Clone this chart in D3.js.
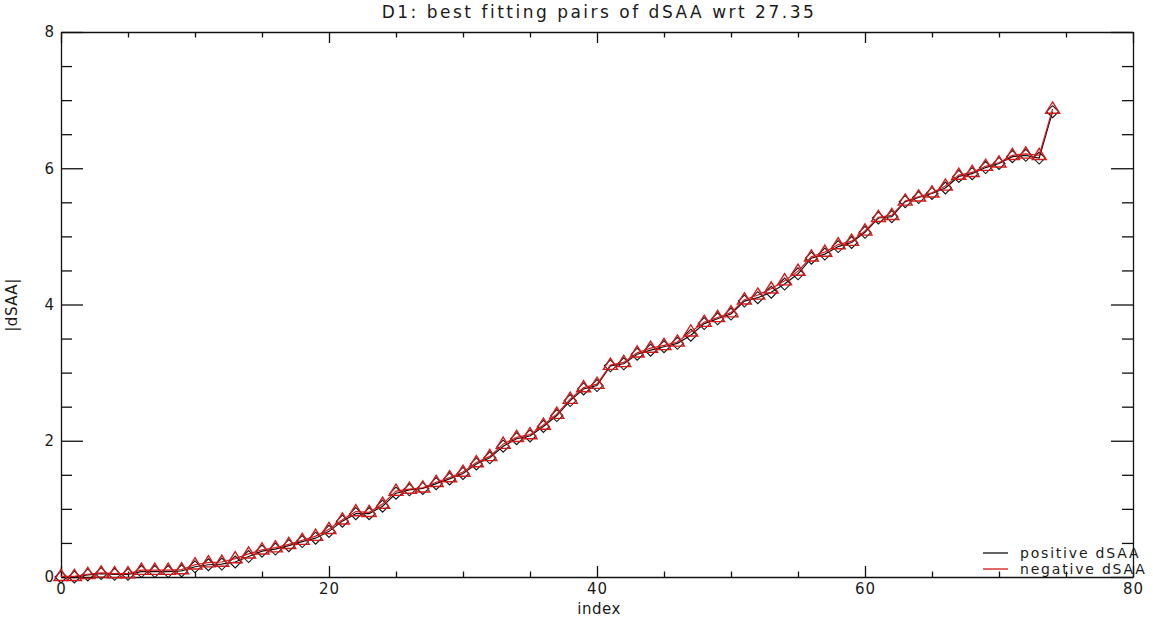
<!DOCTYPE html>
<html>
<head>
<meta charset="utf-8">
<script src="https://cdn.jsdelivr.net/npm/d3@7"></script>
<style>
  body { margin: 0; background: #fff; }
  svg text { font-family: "DejaVu Sans", sans-serif; fill: #1a1a1a; }
</style>
</head>
<body>
<svg id="chart" width="1153" height="622"></svg>
<script>
// values
var positiveDSAA = [0.00,0.00,0.03,0.05,0.04,0.04,0.08,0.08,0.08,0.09,0.15,0.18,0.19,0.22,0.30,0.38,0.41,0.46,0.52,0.57,
                    0.67,0.82,0.93,0.93,1.04,1.23,1.28,1.30,1.37,1.44,1.52,1.66,1.75,1.92,2.03,2.07,2.21,2.37,2.59,2.76,
                    2.81,3.10,3.13,3.27,3.33,3.38,3.43,3.55,3.72,3.79,3.86,4.05,4.10,4.18,4.30,4.45,4.68,4.74,4.85,4.91,
                    5.06,5.27,5.29,5.51,5.57,5.63,5.71,5.88,5.92,6.01,6.07,6.17,6.19,6.15,6.83];
var negativeDSAA = [0.01,0.01,0.04,0.06,0.05,0.05,0.10,0.10,0.10,0.11,0.18,0.21,0.22,0.27,0.34,0.40,0.43,0.48,0.54,0.60,
                    0.70,0.84,0.96,0.95,1.07,1.26,1.29,1.31,1.39,1.46,1.54,1.68,1.77,1.95,2.05,2.09,2.23,2.39,2.61,2.78,
                    2.83,3.11,3.15,3.29,3.36,3.40,3.45,3.60,3.74,3.81,3.88,4.07,4.14,4.23,4.35,4.49,4.70,4.77,4.88,4.93,
                    5.08,5.28,5.31,5.52,5.58,5.64,5.74,5.90,5.94,6.03,6.08,6.19,6.21,6.19,6.87];
var xMajorTicks = [0, 20, 40, 60, 80];
var xMinorTicks = [5, 10, 15, 25, 30, 35, 45, 50, 55, 65, 70, 75];
var yMajorTicks = [0, 2, 4, 6, 8];
var yMinorTicks = [0.5, 1, 1.5, 2.5, 3, 3.5, 4.5, 5, 5.5, 6.5, 7, 7.5];
var titleText = "D1: best fitting pairs of dSAA wrt 27.35";
var legendLabels = ["positive dSAA", "negative dSAA"];

var svg = d3.select("#chart");
var red = "#d01a1a";

var x = d3.scaleLinear().domain([0, 80]).range([61, 1133]);
var y = d3.scaleLinear().domain([0, 8]).range([577, 32]);

// axes, IDL style: ticks pointing inwards on all four sides
function drawAxis(axisFn, scale, pos, major, minor, majorLen, minorLen, labels) {
    var g = svg.append("g").attr("transform", pos);
    g.call(axisFn(scale).tickValues(major).tickSizeInner(-majorLen).tickSizeOuter(0)
            .tickPadding(6).tickFormat(labels ? d3.format("d") : ""));
    var gm = svg.append("g").attr("transform", pos);
    gm.call(axisFn(scale).tickValues(minor).tickSizeInner(-minorLen).tickSizeOuter(0).tickFormat(""));
    gm.select(".domain").remove();
    [g, gm].forEach(function(s) {
        s.selectAll("line, path").attr("stroke", "#111").attr("stroke-width", 1.3);
        s.selectAll("text").style("font-size", "15px").style("letter-spacing", "1px").attr("fill", "#1a1a1a");
    });
    return g;
}
drawAxis(d3.axisBottom, x, "translate(0,577)", xMajorTicks, xMinorTicks, 11, 5.5, true);
drawAxis(d3.axisTop, x, "translate(0,32)", xMajorTicks, xMinorTicks, 11, 5.5, false);
drawAxis(d3.axisLeft, y, "translate(61,0)", yMajorTicks, yMinorTicks, 22, 11, true);
drawAxis(d3.axisRight, y, "translate(1133,0)", yMajorTicks, yMinorTicks, 22, 11, false);

// title and axis titles
svg.append("text").attr("x", 599).attr("y", 18).attr("text-anchor", "middle")
    .style("font-size", "17px").style("letter-spacing", "2.5px").text(titleText);
svg.append("text").attr("x", 599).attr("y", 614).attr("text-anchor", "middle")
    .style("font-size", "15px").style("letter-spacing", "0.5px").text("index");
svg.append("text").attr("transform", "translate(17,305) rotate(-90)").attr("text-anchor", "middle")
    .style("font-size", "15px").style("letter-spacing", "0.5px").text("|dSAA|");

// series
var line = d3.line().x(function(d, i) { return x(i); }).y(function(d) { return y(d); });

svg.append("path").datum(positiveDSAA).attr("d", line)
    .attr("fill", "none").attr("stroke", "#111").attr("stroke-width", 1.2);
svg.selectAll(".diamond").data(positiveDSAA).enter().append("path")
    .attr("class", "diamond")
    .attr("d", function(d, i) {
        var cx = x(i), cy = y(d), r = 6;
        return "M" + cx + "," + (cy - r) + "L" + (cx + r) + "," + cy + "L" + cx + "," + (cy + r) + "L" + (cx - r) + "," + cy + "Z";
    })
    .attr("fill", "none").attr("stroke", "#111").attr("stroke-width", 1.1);

svg.append("path").datum(negativeDSAA).attr("d", line)
    .attr("fill", "none").attr("stroke", red).attr("stroke-width", 1.2);
svg.selectAll(".triangle").data(negativeDSAA).enter().append("path")
    .attr("class", "triangle")
    .attr("d", function(d, i) {
        var cx = x(i), cy = y(d), r = 7;
        return "M" + cx + "," + (cy - r) + "L" + (cx + r) + "," + (cy + r * 0.6) + "L" + (cx - r) + "," + (cy + r * 0.6) + "Z";
    })
    .attr("fill", "none").attr("stroke", red).attr("stroke-width", 1.4);

// legend, bottom right
var legend = svg.append("g");
legendLabels.forEach(function(lab, i) {
    var ly = 553 + i * 16;
    legend.append("line").attr("x1", 983).attr("x2", 1008).attr("y1", ly).attr("y2", ly)
        .attr("stroke", i === 0 ? "#111" : red).attr("stroke-width", 1.3);
    legend.append("text").attr("x", 1020).attr("y", ly + 5)
        .style("font-size", "14px").style("letter-spacing", "1.8px").text(lab);
});
</script>
</body>
</html>
